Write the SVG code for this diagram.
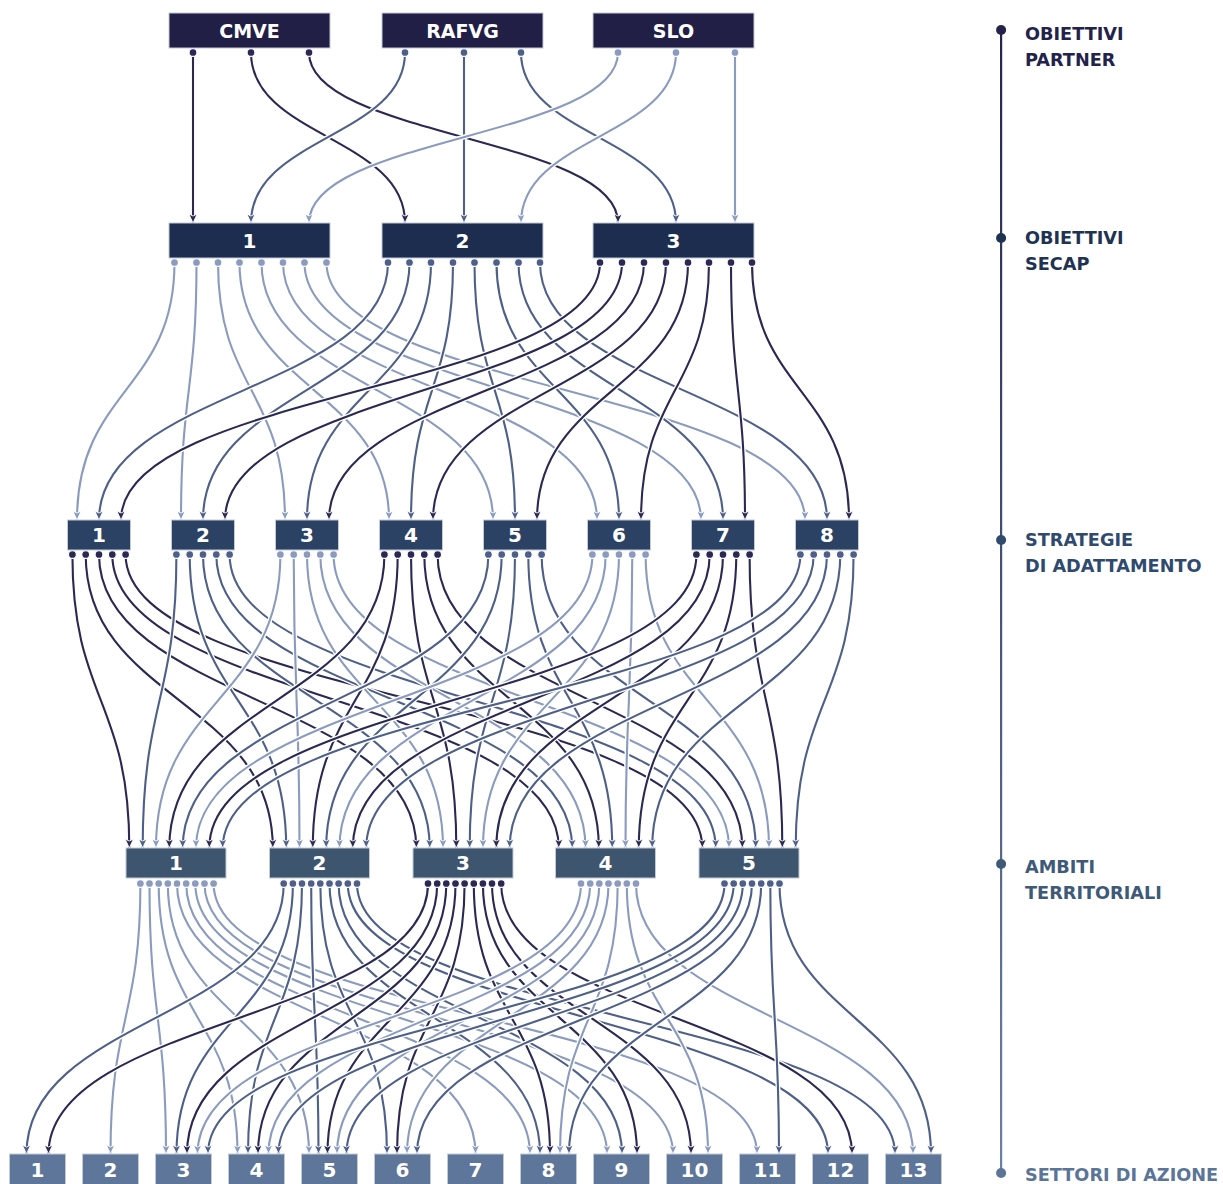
<svg xmlns="http://www.w3.org/2000/svg" xmlns:xlink="http://www.w3.org/1999/xlink" width="1223" height="1184" viewBox="0 0 1223 1184">
<style>
.h{fill:none;stroke:#fff;stroke-width:4.8}
.k,.m,.l{fill:none;stroke-width:2.1}
.k{stroke:#2b2952;marker-start:url(#pk);marker-end:url(#ak)}
.m{stroke:#4f6088;marker-start:url(#pm);marker-end:url(#am)}
.l{stroke:#8b9bbe;marker-start:url(#pl);marker-end:url(#al)}
.bx{stroke:#c3cad6;stroke-width:1}
.t{font-family:"DejaVu Sans","Liberation Sans",sans-serif;font-weight:bold;fill:#fff;text-anchor:middle}
.t1{font-size:19px}
.t2{font-size:20px}
.lg{font-family:"DejaVu Sans","Liberation Sans",sans-serif;font-weight:bold;font-size:17.7px}
</style>
<defs>
<linearGradient id="ax" x1="0" y1="0" x2="0" y2="1"><stop offset="0" stop-color="#24244c"/><stop offset="1" stop-color="#6a82a4"/></linearGradient>
<marker id="pk" markerUnits="userSpaceOnUse" markerWidth="12" markerHeight="12" viewBox="-6 -6 12 12" refX="0" refY="0"><circle r="3.9" fill="#2b2952" stroke="#fff" stroke-width="1.1"/></marker>
<marker id="pm" markerUnits="userSpaceOnUse" markerWidth="12" markerHeight="12" viewBox="-6 -6 12 12" refX="0" refY="0"><circle r="3.9" fill="#4f6088" stroke="#fff" stroke-width="1.1"/></marker>
<marker id="pl" markerUnits="userSpaceOnUse" markerWidth="12" markerHeight="12" viewBox="-6 -6 12 12" refX="0" refY="0"><circle r="3.9" fill="#8b9bbe" stroke="#fff" stroke-width="1.1"/></marker>
<marker id="ak" markerUnits="userSpaceOnUse" markerWidth="14" markerHeight="14" viewBox="-12 -7 14 14" refX="0" refY="0" orient="auto"><path d="M-9,-4.2 L0,0 L-9,4.2 L-7,0Z" fill="#2b2952" stroke="#fff" stroke-width="0.9" stroke-linejoin="round"/></marker>
<marker id="am" markerUnits="userSpaceOnUse" markerWidth="14" markerHeight="14" viewBox="-12 -7 14 14" refX="0" refY="0" orient="auto"><path d="M-9,-4.2 L0,0 L-9,4.2 L-7,0Z" fill="#4f6088" stroke="#fff" stroke-width="0.9" stroke-linejoin="round"/></marker>
<marker id="al" markerUnits="userSpaceOnUse" markerWidth="14" markerHeight="14" viewBox="-12 -7 14 14" refX="0" refY="0" orient="auto"><path d="M-9,-4.2 L0,0 L-9,4.2 L-7,0Z" fill="#8b9bbe" stroke="#fff" stroke-width="0.9" stroke-linejoin="round"/></marker>
<path id="p1" d="M193 52.5 V223"/>
<path id="p2" d="M251 52.5 C251 137 405 137 405 223"/>
<path id="p3" d="M309 52.5 C309 137 618 137 618 223"/>
<path id="p4" d="M405 52.5 C405 137 251 137 251 223"/>
<path id="p5" d="M464 52.5 V223"/>
<path id="p6" d="M521 52.5 C521 137 676 137 676 223"/>
<path id="p7" d="M618 52.5 C618 137 309 137 309 223"/>
<path id="p8" d="M676 52.5 C676 137 521 137 521 223"/>
<path id="p9" d="M735 52.5 V223"/>
<path id="q1" d="M174.5 262.5 C174.5 390 77 390 77 520"/>
<path id="q2" d="M196.5 262.5 C196.5 390 181 390 181 520"/>
<path id="q3" d="M218 262.5 C218 390 285 390 285 520"/>
<path id="q4" d="M239.5 262.5 C239.5 390 389 390 389 520"/>
<path id="q5" d="M261.5 262.5 C261.5 390 493 390 493 520"/>
<path id="q6" d="M283 262.5 C283 390 597 390 597 520"/>
<path id="q7" d="M304.5 262.5 C304.5 390 701 390 701 520"/>
<path id="q8" d="M326.5 262.5 C326.5 390 805 390 805 520"/>
<path id="q9" d="M388 262.5 C388 390 99 390 99 520"/>
<path id="q10" d="M409.5 262.5 C409.5 390 203 390 203 520"/>
<path id="q11" d="M431 262.5 C431 390 307 390 307 520"/>
<path id="q12" d="M453 262.5 C453 390 411 390 411 520"/>
<path id="q13" d="M474.5 262.5 C474.5 390 515 390 515 520"/>
<path id="q14" d="M496.5 262.5 C496.5 390 619 390 619 520"/>
<path id="q15" d="M518.5 262.5 C518.5 390 723 390 723 520"/>
<path id="q16" d="M540 262.5 C540 390 827 390 827 520"/>
<path id="q17" d="M600 262.5 C600 390 121 390 121 520"/>
<path id="q18" d="M622 262.5 C622 390 225 390 225 520"/>
<path id="q19" d="M644 262.5 C644 390 329 390 329 520"/>
<path id="q20" d="M666 262.5 C666 390 433 390 433 520"/>
<path id="q21" d="M688 262.5 C688 390 537 390 537 520"/>
<path id="q22" d="M709 262.5 C709 390 641 390 641 520"/>
<path id="q23" d="M731 262.5 C731 390 745 390 745 520"/>
<path id="q24" d="M752 262.5 C752 390 849 390 849 520"/>
<path id="r1" d="M72.4 554.5 C72.4 700 129.3 700 129.3 848"/>
<path id="r2" d="M85.7 554.5 C85.7 700 272.8 700 272.8 848"/>
<path id="r3" d="M99 554.5 C99 700 416.3 700 416.3 848"/>
<path id="r4" d="M112.3 554.5 C112.3 700 558.8 700 558.8 848"/>
<path id="r5" d="M125.6 554.5 C125.6 700 702.3 700 702.3 848"/>
<path id="r6" d="M176.4 554.5 C176.4 700 142.7 700 142.7 848"/>
<path id="r7" d="M189.7 554.5 C189.7 700 286.2 700 286.2 848"/>
<path id="r8" d="M203 554.5 C203 700 429.7 700 429.7 848"/>
<path id="r9" d="M216.3 554.5 C216.3 700 572.2 700 572.2 848"/>
<path id="r10" d="M229.6 554.5 C229.6 700 715.7 700 715.7 848"/>
<path id="r11" d="M280.4 554.5 C280.4 700 156 700 156 848"/>
<path id="r12" d="M293.7 554.5 C293.7 700 299.5 700 299.5 848"/>
<path id="r13" d="M307 554.5 C307 700 443 700 443 848"/>
<path id="r14" d="M320.3 554.5 C320.3 700 585.5 700 585.5 848"/>
<path id="r15" d="M333.6 554.5 C333.6 700 729 700 729 848"/>
<path id="r16" d="M384.4 554.5 C384.4 700 169.3 700 169.3 848"/>
<path id="r17" d="M397.7 554.5 C397.7 700 312.8 700 312.8 848"/>
<path id="r18" d="M411 554.5 C411 700 456.3 700 456.3 848"/>
<path id="r19" d="M424.3 554.5 C424.3 700 598.8 700 598.8 848"/>
<path id="r20" d="M437.6 554.5 C437.6 700 742.3 700 742.3 848"/>
<path id="r21" d="M488.4 554.5 C488.4 700 182.7 700 182.7 848"/>
<path id="r22" d="M501.7 554.5 C501.7 700 326.2 700 326.2 848"/>
<path id="r23" d="M515 554.5 C515 700 469.7 700 469.7 848"/>
<path id="r24" d="M528.3 554.5 C528.3 700 612.2 700 612.2 848"/>
<path id="r25" d="M541.6 554.5 C541.6 700 755.7 700 755.7 848"/>
<path id="r26" d="M592.4 554.5 C592.4 700 196 700 196 848"/>
<path id="r27" d="M605.7 554.5 C605.7 700 339.5 700 339.5 848"/>
<path id="r28" d="M619 554.5 C619 700 483 700 483 848"/>
<path id="r29" d="M632.3 554.5 C632.3 700 625.5 700 625.5 848"/>
<path id="r30" d="M645.6 554.5 C645.6 700 769 700 769 848"/>
<path id="r31" d="M696.4 554.5 C696.4 700 209.3 700 209.3 848"/>
<path id="r32" d="M709.7 554.5 C709.7 700 352.8 700 352.8 848"/>
<path id="r33" d="M723 554.5 C723 700 496.3 700 496.3 848"/>
<path id="r34" d="M736.3 554.5 C736.3 700 638.8 700 638.8 848"/>
<path id="r35" d="M749.6 554.5 C749.6 700 782.3 700 782.3 848"/>
<path id="r36" d="M800.4 554.5 C800.4 700 222.7 700 222.7 848"/>
<path id="r37" d="M813.7 554.5 C813.7 700 366.2 700 366.2 848"/>
<path id="r38" d="M827 554.5 C827 700 509.7 700 509.7 848"/>
<path id="r39" d="M840.3 554.5 C840.3 700 652.2 700 652.2 848"/>
<path id="r40" d="M853.6 554.5 C853.6 700 795.7 700 795.7 848"/>
<path id="s1" d="M140.4 883.5 C140.4 1018 110.5 1018 110.5 1154"/>
<path id="s2" d="M149.5 883.5 C149.5 1018 166 1018 166 1154"/>
<path id="s3" d="M158.7 883.5 C158.7 1018 237.5 1018 237.5 1154"/>
<path id="s4" d="M167.8 883.5 C167.8 1018 309 1018 309 1154"/>
<path id="s5" d="M177 883.5 C177 1018 475.5 1018 475.5 1154"/>
<path id="s6" d="M186.2 883.5 C186.2 1018 530 1018 530 1154"/>
<path id="s7" d="M195.3 883.5 C195.3 1018 607 1018 607 1154"/>
<path id="s8" d="M204.5 883.5 C204.5 1018 673 1018 673 1154"/>
<path id="s9" d="M213.6 883.5 C213.6 1018 757 1018 757 1154"/>
<path id="s10" d="M283.7 883.5 C283.7 1018 26.5 1018 26.5 1154"/>
<path id="s11" d="M292.9 883.5 C292.9 1018 176.5 1018 176.5 1154"/>
<path id="s12" d="M302 883.5 C302 1018 248 1018 248 1154"/>
<path id="s13" d="M311.2 883.5 C311.2 1018 318.5 1018 318.5 1154"/>
<path id="s14" d="M320.3 883.5 C320.3 1018 387 1018 387 1154"/>
<path id="s15" d="M329.5 883.5 C329.5 1018 540 1018 540 1154"/>
<path id="s16" d="M338.6 883.5 C338.6 1018 622 1018 622 1154"/>
<path id="s17" d="M347.8 883.5 C347.8 1018 828 1018 828 1154"/>
<path id="s18" d="M357 883.5 C357 1018 895 1018 895 1154"/>
<path id="s19" d="M428 883.5 C428 1018 48.5 1018 48.5 1154"/>
<path id="s20" d="M437.2 883.5 C437.2 1018 187 1018 187 1154"/>
<path id="s21" d="M446.3 883.5 C446.3 1018 258 1018 258 1154"/>
<path id="s22" d="M455.5 883.5 C455.5 1018 327.5 1018 327.5 1154"/>
<path id="s23" d="M464.6 883.5 C464.6 1018 397 1018 397 1154"/>
<path id="s24" d="M473.8 883.5 C473.8 1018 550 1018 550 1154"/>
<path id="s25" d="M482.9 883.5 C482.9 1018 637 1018 637 1154"/>
<path id="s26" d="M492 883.5 C492 1018 691 1018 691 1154"/>
<path id="s27" d="M501.2 883.5 C501.2 1018 852 1018 852 1154"/>
<path id="s28" d="M581 883.5 C581 1018 197.5 1018 197.5 1154"/>
<path id="s29" d="M590.2 883.5 C590.2 1018 268.5 1018 268.5 1154"/>
<path id="s30" d="M599.3 883.5 C599.3 1018 337 1018 337 1154"/>
<path id="s31" d="M608.5 883.5 C608.5 1018 407 1018 407 1154"/>
<path id="s32" d="M617.7 883.5 C617.7 1018 560 1018 560 1154"/>
<path id="s33" d="M626.8 883.5 C626.8 1018 708 1018 708 1154"/>
<path id="s34" d="M636 883.5 C636 1018 913 1018 913 1154"/>
<path id="s35" d="M724.5 883.5 C724.5 1018 208 1018 208 1154"/>
<path id="s36" d="M733.7 883.5 C733.7 1018 278.5 1018 278.5 1154"/>
<path id="s37" d="M742.8 883.5 C742.8 1018 346.5 1018 346.5 1154"/>
<path id="s38" d="M752 883.5 C752 1018 417 1018 417 1154"/>
<path id="s39" d="M761.2 883.5 C761.2 1018 569 1018 569 1154"/>
<path id="s40" d="M770.3 883.5 C770.3 1018 779 1018 779 1154"/>
<path id="s41" d="M779.5 883.5 C779.5 1018 931 1018 931 1154"/>
</defs>
<rect width="1223" height="1184" fill="#fff"/>
<g id="connectors">
<use href="#p1" class="h"/><use href="#p1" class="k"/>
<use href="#p2" class="h"/><use href="#p2" class="k"/>
<use href="#p3" class="h"/><use href="#p3" class="k"/>
<use href="#p4" class="h"/><use href="#p4" class="m"/>
<use href="#p5" class="h"/><use href="#p5" class="m"/>
<use href="#p6" class="h"/><use href="#p6" class="m"/>
<use href="#p7" class="h"/><use href="#p7" class="l"/>
<use href="#p8" class="h"/><use href="#p8" class="l"/>
<use href="#p9" class="h"/><use href="#p9" class="l"/>
<use href="#q1" class="h"/><use href="#q1" class="l"/>
<use href="#q2" class="h"/><use href="#q2" class="l"/>
<use href="#q3" class="h"/><use href="#q3" class="l"/>
<use href="#q4" class="h"/><use href="#q4" class="l"/>
<use href="#q5" class="h"/><use href="#q5" class="l"/>
<use href="#q6" class="h"/><use href="#q6" class="l"/>
<use href="#q7" class="h"/><use href="#q7" class="l"/>
<use href="#q8" class="h"/><use href="#q8" class="l"/>
<use href="#q9" class="h"/><use href="#q9" class="m"/>
<use href="#q10" class="h"/><use href="#q10" class="m"/>
<use href="#q11" class="h"/><use href="#q11" class="m"/>
<use href="#q12" class="h"/><use href="#q12" class="m"/>
<use href="#q13" class="h"/><use href="#q13" class="m"/>
<use href="#q14" class="h"/><use href="#q14" class="m"/>
<use href="#q15" class="h"/><use href="#q15" class="m"/>
<use href="#q16" class="h"/><use href="#q16" class="m"/>
<use href="#q17" class="h"/><use href="#q17" class="k"/>
<use href="#q18" class="h"/><use href="#q18" class="k"/>
<use href="#q19" class="h"/><use href="#q19" class="k"/>
<use href="#q20" class="h"/><use href="#q20" class="k"/>
<use href="#q21" class="h"/><use href="#q21" class="k"/>
<use href="#q22" class="h"/><use href="#q22" class="k"/>
<use href="#q23" class="h"/><use href="#q23" class="k"/>
<use href="#q24" class="h"/><use href="#q24" class="k"/>
<use href="#r1" class="h"/><use href="#r1" class="k"/>
<use href="#r2" class="h"/><use href="#r2" class="k"/>
<use href="#r3" class="h"/><use href="#r3" class="k"/>
<use href="#r4" class="h"/><use href="#r4" class="k"/>
<use href="#r5" class="h"/><use href="#r5" class="k"/>
<use href="#r6" class="h"/><use href="#r6" class="m"/>
<use href="#r7" class="h"/><use href="#r7" class="m"/>
<use href="#r8" class="h"/><use href="#r8" class="m"/>
<use href="#r9" class="h"/><use href="#r9" class="m"/>
<use href="#r10" class="h"/><use href="#r10" class="m"/>
<use href="#r11" class="h"/><use href="#r11" class="l"/>
<use href="#r12" class="h"/><use href="#r12" class="l"/>
<use href="#r13" class="h"/><use href="#r13" class="l"/>
<use href="#r14" class="h"/><use href="#r14" class="l"/>
<use href="#r15" class="h"/><use href="#r15" class="l"/>
<use href="#r16" class="h"/><use href="#r16" class="k"/>
<use href="#r17" class="h"/><use href="#r17" class="k"/>
<use href="#r18" class="h"/><use href="#r18" class="k"/>
<use href="#r19" class="h"/><use href="#r19" class="k"/>
<use href="#r20" class="h"/><use href="#r20" class="k"/>
<use href="#r21" class="h"/><use href="#r21" class="m"/>
<use href="#r22" class="h"/><use href="#r22" class="m"/>
<use href="#r23" class="h"/><use href="#r23" class="m"/>
<use href="#r24" class="h"/><use href="#r24" class="m"/>
<use href="#r25" class="h"/><use href="#r25" class="m"/>
<use href="#r26" class="h"/><use href="#r26" class="l"/>
<use href="#r27" class="h"/><use href="#r27" class="l"/>
<use href="#r28" class="h"/><use href="#r28" class="l"/>
<use href="#r29" class="h"/><use href="#r29" class="l"/>
<use href="#r30" class="h"/><use href="#r30" class="l"/>
<use href="#r31" class="h"/><use href="#r31" class="k"/>
<use href="#r32" class="h"/><use href="#r32" class="k"/>
<use href="#r33" class="h"/><use href="#r33" class="k"/>
<use href="#r34" class="h"/><use href="#r34" class="k"/>
<use href="#r35" class="h"/><use href="#r35" class="k"/>
<use href="#r36" class="h"/><use href="#r36" class="m"/>
<use href="#r37" class="h"/><use href="#r37" class="m"/>
<use href="#r38" class="h"/><use href="#r38" class="m"/>
<use href="#r39" class="h"/><use href="#r39" class="m"/>
<use href="#r40" class="h"/><use href="#r40" class="m"/>
<use href="#s1" class="h"/><use href="#s1" class="l"/>
<use href="#s2" class="h"/><use href="#s2" class="l"/>
<use href="#s3" class="h"/><use href="#s3" class="l"/>
<use href="#s4" class="h"/><use href="#s4" class="l"/>
<use href="#s5" class="h"/><use href="#s5" class="l"/>
<use href="#s6" class="h"/><use href="#s6" class="l"/>
<use href="#s7" class="h"/><use href="#s7" class="l"/>
<use href="#s8" class="h"/><use href="#s8" class="l"/>
<use href="#s9" class="h"/><use href="#s9" class="l"/>
<use href="#s10" class="h"/><use href="#s10" class="m"/>
<use href="#s11" class="h"/><use href="#s11" class="m"/>
<use href="#s12" class="h"/><use href="#s12" class="m"/>
<use href="#s13" class="h"/><use href="#s13" class="m"/>
<use href="#s14" class="h"/><use href="#s14" class="m"/>
<use href="#s15" class="h"/><use href="#s15" class="m"/>
<use href="#s16" class="h"/><use href="#s16" class="m"/>
<use href="#s17" class="h"/><use href="#s17" class="m"/>
<use href="#s18" class="h"/><use href="#s18" class="m"/>
<use href="#s19" class="h"/><use href="#s19" class="k"/>
<use href="#s20" class="h"/><use href="#s20" class="k"/>
<use href="#s21" class="h"/><use href="#s21" class="k"/>
<use href="#s22" class="h"/><use href="#s22" class="k"/>
<use href="#s23" class="h"/><use href="#s23" class="k"/>
<use href="#s24" class="h"/><use href="#s24" class="k"/>
<use href="#s25" class="h"/><use href="#s25" class="k"/>
<use href="#s26" class="h"/><use href="#s26" class="k"/>
<use href="#s27" class="h"/><use href="#s27" class="k"/>
<use href="#s28" class="h"/><use href="#s28" class="l"/>
<use href="#s29" class="h"/><use href="#s29" class="l"/>
<use href="#s30" class="h"/><use href="#s30" class="l"/>
<use href="#s31" class="h"/><use href="#s31" class="l"/>
<use href="#s32" class="h"/><use href="#s32" class="l"/>
<use href="#s33" class="h"/><use href="#s33" class="l"/>
<use href="#s34" class="h"/><use href="#s34" class="l"/>
<use href="#s35" class="h"/><use href="#s35" class="m"/>
<use href="#s36" class="h"/><use href="#s36" class="m"/>
<use href="#s37" class="h"/><use href="#s37" class="m"/>
<use href="#s38" class="h"/><use href="#s38" class="m"/>
<use href="#s39" class="h"/><use href="#s39" class="m"/>
<use href="#s40" class="h"/><use href="#s40" class="m"/>
<use href="#s41" class="h"/><use href="#s41" class="m"/>
</g>
<g id="partners">
<g id="n-cmve"><rect class="bx" x="169" y="13" width="161" height="35" fill="#221f47"/><text class="t t1" x="249.5" y="38">CMVE</text></g>
<g id="n-rafvg"><rect class="bx" x="382" y="13" width="161" height="35" fill="#221f47"/><text class="t t1" x="462.5" y="38">RAFVG</text></g>
<g id="n-slo"><rect class="bx" x="593" y="13" width="161" height="35" fill="#221f47"/><text class="t t1" x="673.5" y="38">SLO</text></g>
</g>
<g id="secap">
<g id="n-ob1"><rect class="bx" x="169" y="223" width="161" height="35" fill="#1c2d50"/><text class="t t2" x="249.5" y="248">1</text></g>
<g id="n-ob2"><rect class="bx" x="382" y="223" width="161" height="35" fill="#1c2d50"/><text class="t t2" x="462.5" y="248">2</text></g>
<g id="n-ob3"><rect class="bx" x="593" y="223" width="161" height="35" fill="#1c2d50"/><text class="t t2" x="673.5" y="248">3</text></g>
</g>
<g id="strategie">
<g id="n-st1"><rect class="bx" x="67.5" y="520" width="63" height="30" fill="#2b4264"/><text class="t t2" x="99" y="542">1</text></g>
<g id="n-st2"><rect class="bx" x="171.5" y="520" width="63" height="30" fill="#2b4264"/><text class="t t2" x="203" y="542">2</text></g>
<g id="n-st3"><rect class="bx" x="275.5" y="520" width="63" height="30" fill="#2b4264"/><text class="t t2" x="307" y="542">3</text></g>
<g id="n-st4"><rect class="bx" x="379.5" y="520" width="63" height="30" fill="#2b4264"/><text class="t t2" x="411" y="542">4</text></g>
<g id="n-st5"><rect class="bx" x="483.5" y="520" width="63" height="30" fill="#2b4264"/><text class="t t2" x="515" y="542">5</text></g>
<g id="n-st6"><rect class="bx" x="587.5" y="520" width="63" height="30" fill="#2b4264"/><text class="t t2" x="619" y="542">6</text></g>
<g id="n-st7"><rect class="bx" x="691.5" y="520" width="63" height="30" fill="#2b4264"/><text class="t t2" x="723" y="542">7</text></g>
<g id="n-st8"><rect class="bx" x="795.5" y="520" width="63" height="30" fill="#2b4264"/><text class="t t2" x="827" y="542">8</text></g>
</g>
<g id="ambiti">
<g id="n-am1"><rect class="bx" x="126" y="848" width="100" height="30" fill="#3d556f"/><text class="t t2" x="176" y="870">1</text></g>
<g id="n-am2"><rect class="bx" x="269.5" y="848" width="100" height="30" fill="#3d556f"/><text class="t t2" x="319.5" y="870">2</text></g>
<g id="n-am3"><rect class="bx" x="413" y="848" width="100" height="30" fill="#3d556f"/><text class="t t2" x="463" y="870">3</text></g>
<g id="n-am4"><rect class="bx" x="555.5" y="848" width="100" height="30" fill="#3d556f"/><text class="t t2" x="605.5" y="870">4</text></g>
<g id="n-am5"><rect class="bx" x="699" y="848" width="100" height="30" fill="#3d556f"/><text class="t t2" x="749" y="870">5</text></g>
</g>
<g id="settori">
<g id="n-se1"><rect class="bx" x="9.5" y="1154" width="56" height="34" fill="#5e7699"/><text class="t t2" x="37.5" y="1177">1</text></g>
<g id="n-se2"><rect class="bx" x="82.5" y="1154" width="56" height="34" fill="#5e7699"/><text class="t t2" x="110.5" y="1177">2</text></g>
<g id="n-se3"><rect class="bx" x="155.5" y="1154" width="56" height="34" fill="#5e7699"/><text class="t t2" x="183.5" y="1177">3</text></g>
<g id="n-se4"><rect class="bx" x="228.5" y="1154" width="56" height="34" fill="#5e7699"/><text class="t t2" x="256.5" y="1177">4</text></g>
<g id="n-se5"><rect class="bx" x="301.5" y="1154" width="56" height="34" fill="#5e7699"/><text class="t t2" x="329.5" y="1177">5</text></g>
<g id="n-se6"><rect class="bx" x="374.5" y="1154" width="56" height="34" fill="#5e7699"/><text class="t t2" x="402.5" y="1177">6</text></g>
<g id="n-se7"><rect class="bx" x="447.5" y="1154" width="56" height="34" fill="#5e7699"/><text class="t t2" x="475.5" y="1177">7</text></g>
<g id="n-se8"><rect class="bx" x="520.5" y="1154" width="56" height="34" fill="#5e7699"/><text class="t t2" x="548.5" y="1177">8</text></g>
<g id="n-se9"><rect class="bx" x="593.5" y="1154" width="56" height="34" fill="#5e7699"/><text class="t t2" x="621.5" y="1177">9</text></g>
<g id="n-se10"><rect class="bx" x="666.5" y="1154" width="56" height="34" fill="#5e7699"/><text class="t t2" x="694.5" y="1177">10</text></g>
<g id="n-se11"><rect class="bx" x="739.5" y="1154" width="56" height="34" fill="#5e7699"/><text class="t t2" x="767.5" y="1177">11</text></g>
<g id="n-se12"><rect class="bx" x="812.5" y="1154" width="56" height="34" fill="#5e7699"/><text class="t t2" x="840.5" y="1177">12</text></g>
<g id="n-se13"><rect class="bx" x="885.5" y="1154" width="56" height="34" fill="#5e7699"/><text class="t t2" x="913.5" y="1177">13</text></g>
</g>
<g id="legend">
<rect x="1000" y="30" width="2.2" height="1143" fill="url(#ax)"/>
<circle cx="1001.1" cy="30" r="5" fill="#23224a"/>
<circle cx="1001.1" cy="238" r="5" fill="#1e3252"/>
<circle cx="1001.1" cy="540" r="5" fill="#2f4a6e"/>
<circle cx="1001.1" cy="864" r="5" fill="#3e5a78"/>
<circle cx="1001.1" cy="1173" r="5" fill="#5a7598"/>
<text class="lg" x="1025" y="40" fill="#23224a">OBIETTIVI</text>
<text class="lg" x="1025" y="66" fill="#23224a">PARTNER</text>
<text class="lg" x="1025" y="244" fill="#1e3252">OBIETTIVI</text>
<text class="lg" x="1025" y="270" fill="#1e3252">SECAP</text>
<text class="lg" x="1025" y="546" fill="#2f4a6e">STRATEGIE</text>
<text class="lg" x="1025" y="572" fill="#2f4a6e">DI ADATTAMENTO</text>
<text class="lg" x="1025" y="873" fill="#3e5a78">AMBITI</text>
<text class="lg" x="1025" y="899" fill="#3e5a78">TERRITORIALI</text>
<text class="lg" x="1025" y="1181" fill="#5a7598">SETTORI DI AZIONE</text>
</g>
</svg>
